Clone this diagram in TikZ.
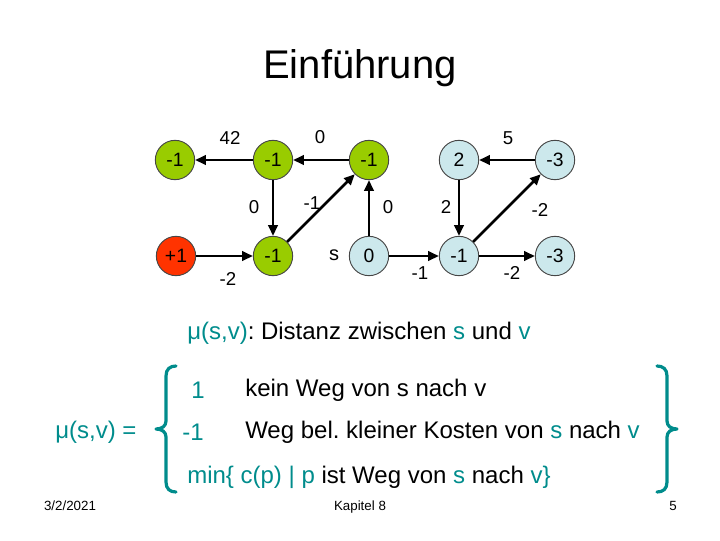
\documentclass[tikz,border=0pt]{standalone}
\usepackage{fontspec}
\setmainfont{Liberation Sans}
\usetikzlibrary{arrows.meta}
\frenchspacing
\definecolor{vgreen}{RGB}{153,204,0}
\definecolor{vred}{RGB}{255,51,0}
\definecolor{vblue}{RGB}{204,232,236}
\definecolor{teal2}{RGB}{0,140,140}
\definecolor{rim}{RGB}{70,70,70}
\tikzset{
  vtx/.style={circle,draw=rim,line width=0.7pt,minimum size=29.5pt,inner sep=0pt,font=\fontsize{14.5}{17}\selectfont},
  gv/.style={vtx,fill=vgreen},
  rv/.style={vtx,fill=vred},
  bv/.style={vtx,fill=vblue},
  arc/.style={line width=1.9pt,-{Triangle[length=8pt,width=7pt]}},
  wlab/.style={font=\fontsize{14}{17}\selectfont,inner sep=0pt},
  txt/.style={font=\fontsize{18}{22}\selectfont,inner sep=0pt},
  foot/.style={font=\fontsize{10}{12}\selectfont,inner sep=0pt,anchor=base},
  bracestyle/.style={draw=teal2,line width=2.4pt,line cap=round,line join=round}
}
\begin{document}
\begin{tikzpicture}[x=0.75pt,y=-0.75pt]
\useasboundingbox (0,0) rectangle (720,540);
% title
\node[inner sep=0pt,font=\fontsize{30}{36}\selectfont] (title) at (360,68) {Einführung};
% vertices
\node[gv] (A) at (175,160) {-1};
\node[gv] (B) at (273,160) {-1};
\node[gv] (C) at (369,160) {-1};
\node[rv] (D) at (176,256) {+1};
\node[gv] (E) at (273,256) {-1};
\node[bv] (S) at (369,256) {0};
\node[bv] (F) at (459,160) {2};
\node[bv] (G) at (555,160) {-3};
\node[bv] (H) at (459,256) {-1};
\node[bv] (I) at (555,256) {-3};
\node[inner sep=0pt,font=\fontsize{15}{18}\selectfont] (slab) at (334,255) {s};
% arcs
\draw[arc] (B) -- (A);
\draw[arc] (C) -- (B);
\draw[arc] (B) -- (E);
\draw[arc] (E) -- (C);
\draw[arc] (S) -- (C);
\draw[arc] (D) -- (E);
\draw[arc] (S) -- (H);
\draw[arc] (G) -- (F);
\draw[arc] (F) -- (H);
\draw[arc] (H) -- (G);
\draw[arc] (H) -- (I);
% weights
\node[wlab] (w1) at (230,138) {42};
\node[wlab] (w2) at (320,137) {0};
\node[wlab] (w3) at (254,207) {0};
\node[wlab] (w4) at (312,203) {-1};
\node[wlab] (w5) at (388,207) {0};
\node[wlab] (w6) at (228,279) {-2};
\node[wlab] (w7) at (420,273) {-1};
\node[wlab] (w8) at (508,138) {5};
\node[wlab] (w9) at (446,207) {2};
\node[wlab] (w10) at (540,210) {-2};
\node[wlab] (w11) at (512,273) {-2};
% text
\node[txt,anchor=west] (def) at (187,333) {\textcolor{teal2}{μ(s,v)}: Distanz zwischen \textcolor{teal2}{s} und \textcolor{teal2}{v}};
\node[txt,anchor=west] (mu) at (55,432) {\textcolor{teal2}{μ(s,v) =}};
\node[txt,text=teal2] (c1) at (198,390) {1};
\node[txt,text=teal2] (c2) at (193,432) {-1};
\node[txt,anchor=west] (t1) at (245,390) {kein Weg von s nach v};
\node[txt,anchor=west] (t2) at (245,432) {Weg bel. kleiner Kosten von \textcolor{teal2}{s} nach \textcolor{teal2}{v}};
\node[txt,anchor=west] (t3) at (187,477) {\textcolor{teal2}{min\{ c(p) | p} ist Weg von \textcolor{teal2}{s} nach \textcolor{teal2}{v\}}};
% braces
\draw[bracestyle] (176,366) .. controls (170,366) and (166,369) .. (166,376) -- (166,421) .. controls (166,426) and (162,429) .. (156,429) .. controls (162,429) and (166,432) .. (166,437) -- (166,482) .. controls (166,489) and (170,492) .. (176,492);
\draw[bracestyle] (657,366) .. controls (663,366) and (667,369) .. (667,376) -- (667,421) .. controls (667,426) and (671,429) .. (677,429) .. controls (671,429) and (667,432) .. (667,437) -- (667,482) .. controls (667,489) and (663,492) .. (657,492);
% footer
\node[foot] (date) at (70,510) {3/2/2021};
\node[foot] (kap) at (360,510) {Kapitel 8};
\node[foot] (pg) at (673,510) {5};
\end{tikzpicture}
\end{document}
